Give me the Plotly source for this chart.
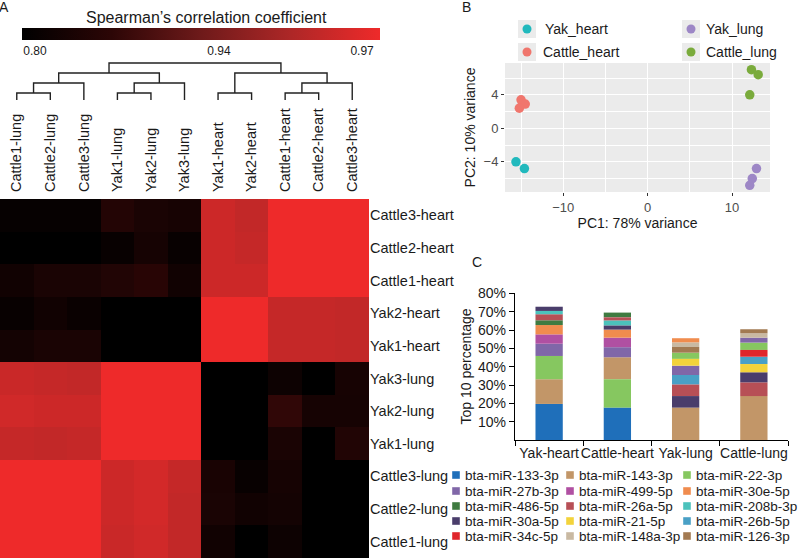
import numpy as np
import plotly.graph_objects as go

W, H = 799, 558
def px(x): return x / W
def py(y): return 1 - y / H

FONT = "Arial, Liberation Sans, sans-serif"
TXT = "#1a1a1a"

# ---------------- Panel A data ----------------
col_labels = ["Cattle1-lung", "Cattle2-lung", "Cattle3-lung", "Yak1-lung", "Yak2-lung", "Yak3-lung",
              "Yak1-heart", "Yak2-heart", "Cattle1-heart", "Cattle2-heart", "Cattle3-heart"]
row_labels = ["Cattle3-heart", "Cattle2-heart", "Cattle1-heart", "Yak2-heart", "Yak1-heart",
              "Yak3-lung", "Yak2-lung", "Yak1-lung", "Cattle3-lung", "Cattle2-lung", "Cattle1-lung"]
spearman = [
    [0.800, 0.800, 0.800, 0.845, 0.831, 0.826, 0.964, 0.961, 0.980, 0.980, 1.000],
    [0.790, 0.790, 0.790, 0.803, 0.824, 0.803, 0.964, 0.962, 0.980, 1.000, 0.980],
    [0.816, 0.831, 0.831, 0.842, 0.852, 0.816, 0.964, 0.964, 1.000, 0.980, 0.980],
    [0.803, 0.816, 0.805, 0.790, 0.790, 0.790, 0.980, 1.000, 0.962, 0.962, 0.961],
    [0.821, 0.831, 0.831, 0.790, 0.790, 0.790, 1.000, 0.980, 0.962, 0.962, 0.961],
    [0.963, 0.962, 0.961, 0.980, 0.980, 1.000, 0.790, 0.790, 0.811, 0.790, 0.826],
    [0.965, 0.964, 0.964, 0.980, 1.000, 0.980, 0.790, 0.790, 0.862, 0.824, 0.824],
    [0.962, 0.961, 0.962, 1.000, 0.980, 0.980, 0.790, 0.790, 0.831, 0.790, 0.842],
    [0.980, 0.980, 1.000, 0.964, 0.966, 0.962, 0.829, 0.803, 0.824, 0.790, 0.790],
    [0.980, 1.000, 0.980, 0.964, 0.966, 0.961, 0.831, 0.816, 0.821, 0.790, 0.790],
    [1.000, 0.980, 0.980, 0.963, 0.965, 0.961, 0.816, 0.790, 0.811, 0.790, 0.790],
]
color_breaks = [0.79, 0.80, 0.94, 0.97, 0.98]
color_positions = [0.0, 0.036, 0.55, 0.95, 1.0]
colorbar_ticks = [0.80, 0.94, 0.97]
colorbar_ticktext = ["0.80", "0.94", "0.97"]
# hierarchical clustering merges (left, right, height); leaves are column indices
dendro_merges = [
    (0, 1, 0.7), (11, 2, 1.7), (3, 4, 0.7), (13, 5, 1.7), (12, 14, 2.7),
    (6, 7, 0.7), (8, 9, 0.7), (17, 10, 1.7), (16, 18, 2.7), (15, 19, 3.7),
]

# ---------------- Panel B data ----------------
pca_groups = ["Yak_heart", "Cattle_heart", "Yak_lung", "Cattle_lung"]
pca_colors = ["#21b9bd", "#f0766d", "#9d87c6", "#7aab3c"]
pca_pc1 = [[-15.6, -14.6], [-15.0, -14.5, -15.2], [12.9, 12.4, 12.1], [12.3, 13.1, 12.1]]
pca_pc2 = [[-4.0, -4.8], [3.4, 2.9, 2.4], [-4.8, -6.0, -6.8], [7.0, 6.4, 4.0]]

# ---------------- Panel C data ----------------
bar_categories = ["Yak-heart", "Cattle-heart", "Yak-lung", "Cattle-lung"]
mirna_names = ["bta-miR-133-3p", "bta-miR-143-3p", "bta-miR-22-3p",
               "bta-miR-27b-3p", "bta-miR-499-5p", "bta-miR-30e-5p",
               "bta-miR-486-5p", "bta-miR-26a-5p", "bta-miR-208b-3p",
               "bta-miR-30a-5p", "bta-miR-21-5p", "bta-miR-26b-5p",
               "bta-miR-34c-5p", "bta-miR-148a-3p", "bta-miR-126-3p"]
mirna_colors = ["#1f6fba", "#c29668", "#86c760",
                "#8067a8", "#b050a2", "#f08c4e",
                "#3f7b41", "#b74f56", "#4cc2bc",
                "#4a3d6b", "#f3d33b", "#49a0c6",
                "#e0262b", "#c9b9a2", "#a27a52"]
yak_heart_mirs = ["bta-miR-133-3p", "bta-miR-143-3p", "bta-miR-22-3p", "bta-miR-27b-3p", "bta-miR-499-5p",
                  "bta-miR-30e-5p", "bta-miR-486-5p", "bta-miR-26a-5p", "bta-miR-208b-3p", "bta-miR-30a-5p"]
yak_heart_vals = [19.7, 13.5, 12.7, 6.7, 5.1, 5.1, 2.6, 3.3, 1.8, 2.3]
cattle_heart_mirs = ["bta-miR-133-3p", "bta-miR-22-3p", "bta-miR-143-3p", "bta-miR-27b-3p", "bta-miR-499-5p",
                     "bta-miR-30e-5p", "bta-miR-30a-5p", "bta-miR-208b-3p", "bta-miR-26a-5p", "bta-miR-486-5p"]
cattle_heart_vals = [17.7, 15.5, 12.0, 5.5, 5.2, 4.4, 2.2, 2.7, 1.8, 2.6]
yak_lung_mirs = ["bta-miR-143-3p", "bta-miR-30a-5p", "bta-miR-26a-5p", "bta-miR-26b-5p", "bta-miR-27b-3p",
                 "bta-miR-21-5p", "bta-miR-22-3p", "bta-miR-126-3p", "bta-miR-148a-3p", "bta-miR-30e-5p"]
yak_lung_vals = [17.7, 6.3, 6.4, 5.1, 5.1, 3.7, 3.4, 3.1, 2.4, 2.4]
cattle_lung_mirs = ["bta-miR-143-3p", "bta-miR-26a-5p", "bta-miR-30a-5p", "bta-miR-21-5p", "bta-miR-26b-5p",
                    "bta-miR-34c-5p", "bta-miR-22-3p", "bta-miR-27b-3p", "bta-miR-148a-3p", "bta-miR-126-3p"]
cattle_lung_vals = [24.0, 7.5, 5.5, 4.5, 4.0, 3.7, 4.0, 2.7, 2.4, 2.2]
bar_y_ticks = [10, 20, 30, 40, 50, 60, 70, 80]
bar_y_ticktext = ["10%", "20%", "30%", "40%", "50%", "60%", "70%", "80%"]

fig = go.Figure()

# ---------------- Heatmap ----------------
zpos = np.interp(np.array(spearman), color_breaks, color_positions)
fig.add_trace(go.Heatmap(
    z=zpos, x=list(range(len(col_labels))), y=list(range(len(row_labels))),
    zmin=0, zmax=1,
    colorscale=[[0, "#000000"], [0.25, "#2c0606"], [0.5, "#6e1a1a"], [0.75, "#ad2727"], [1, "#ee2a2a"]],
    xaxis="x", yaxis="y", hoverinfo="skip",
    colorbar=dict(orientation="h", x=px(201), xanchor="center", y=py(28), yanchor="top",
                  len=358 / W, lenmode="fraction", thickness=12, thicknessmode="pixels",
                  outlinewidth=0, xpad=0, ypad=0, ticks="",
                  tickvals=list(np.interp(colorbar_ticks, color_breaks, color_positions)),
                  ticktext=colorbar_ticktext, tickfont=dict(size=12, color=TXT, family=FONT)),
))

# ---------------- Dendrogram ----------------
n_leaves = len(col_labels)
node_x = {i: float(i) for i in range(n_leaves)}
node_h = {i: 0.0 for i in range(n_leaves)}
dx, dy = [], []
for k, (a, b, h) in enumerate(dendro_merges):
    nid = n_leaves + k
    dx += [node_x[a], node_x[a], node_x[b], node_x[b], None]
    dy += [node_h[a], h, h, node_h[b], None]
    node_x[nid] = (node_x[a] + node_x[b]) / 2
    node_h[nid] = h
fig.add_trace(go.Scatter(x=dx, y=dy, mode="lines", line=dict(color="#222222", width=1.4),
                         xaxis="x2", yaxis="y2", showlegend=False, hoverinfo="skip"))

# ---------------- PCA ----------------
for g, c, xs, ys in zip(pca_groups, pca_colors, pca_pc1, pca_pc2):
    fig.add_trace(go.Scatter(x=xs, y=ys, mode="markers", name=g,
                             marker=dict(size=9.5, color=c), xaxis="x3", yaxis="y3",
                             showlegend=False, hoverinfo="skip"))

# ---------------- Stacked bars ----------------
stacks = {
    "Yak-heart": (yak_heart_mirs, yak_heart_vals),
    "Cattle-heart": (cattle_heart_mirs, cattle_heart_vals),
    "Yak-lung": (yak_lung_mirs, yak_lung_vals),
    "Cattle-lung": (cattle_lung_mirs, cattle_lung_vals),
}
seg = {m: ([], [], []) for m in mirna_names}
for ci, cat in enumerate(bar_categories):
    mirs, vals = stacks[cat]
    base = 0.0
    for m, v in zip(mirs, vals):
        seg[m][0].append(ci)
        seg[m][1].append(v)
        seg[m][2].append(base)
        base += v
for m, c in zip(mirna_names, mirna_colors):
    xs, ys, bs = seg[m]
    fig.add_trace(go.Bar(x=xs, y=ys, base=bs, name=m, marker=dict(color=c, line=dict(width=0)),
                         width=0.4, xaxis="x4", yaxis="y4", showlegend=False, hoverinfo="skip"))

shapes = []
annotations = []

# PCA grey background
shapes.append(dict(type="rect", xref="x3 domain", yref="y3 domain", x0=0, x1=1, y0=0, y1=1,
                   fillcolor="#ebebeb", line=dict(width=0), layer="below"))

# PCA legend (manual)
leg_pos = {"Yak_heart": (527, 29, 543), "Yak_lung": (691, 29, 704),
           "Cattle_heart": (527, 52, 541), "Cattle_lung": (691, 52, 704)}
for g, c in zip(pca_groups, pca_colors):
    mx, my, tx = leg_pos[g]
    shapes.append(dict(type="rect", xref="paper", yref="paper", xsizemode="pixel", ysizemode="pixel",
                       xanchor=px(mx), yanchor=py(my), x0=-9, x1=9, y0=-9, y1=9,
                       fillcolor="#ebebeb", line=dict(width=0)))
    shapes.append(dict(type="circle", xref="paper", yref="paper", xsizemode="pixel", ysizemode="pixel",
                       xanchor=px(mx), yanchor=py(my), x0=-4.5, x1=4.5, y0=-4.5, y1=4.5,
                       fillcolor=c, line=dict(width=0)))
    annotations.append(dict(text=g, x=px(tx), y=py(my), xref="paper", yref="paper", xanchor="left",
                            yanchor="middle", showarrow=False, font=dict(size=14, color=TXT, family=FONT)))

# Bar legend (manual, 3 columns)
row_y = [475, 491, 506, 521, 536]
sw_x = [456, 570, 687]
tx_x = [464, 578, 695]
for i, (m, c) in enumerate(zip(mirna_names, mirna_colors)):
    r, k = divmod(i, 3)
    shapes.append(dict(type="rect", xref="paper", yref="paper", xsizemode="pixel", ysizemode="pixel",
                       xanchor=px(sw_x[k]), yanchor=py(row_y[r]), x0=-3.8, x1=3.8, y0=-3.8, y1=3.8,
                       fillcolor=c, line=dict(width=0)))
    annotations.append(dict(text=m, x=px(tx_x[k]), y=py(row_y[r]), xref="paper", yref="paper",
                            xanchor="left", yanchor="middle", showarrow=False, borderpad=0,
                            font=dict(size=13.5, color=TXT, family=FONT)))

# Titles / panel labels
annotations.append(dict(text="Spearman\u2019s correlation coefficient", x=px(206), y=py(17), xref="paper",
                        yref="paper", xanchor="center", yanchor="middle", showarrow=False,
                        font=dict(size=16, color=TXT, family=FONT)))
for lab, x, y in [("A", 4, 7), ("B", 466, 7), ("C", 477, 262)]:
    annotations.append(dict(text=lab, x=px(x), y=py(y), xref="paper", yref="paper", xanchor="center",
                            yanchor="middle", showarrow=False, font=dict(size=14, color=TXT, family=FONT)))

axis_font = dict(size=14.5, color=TXT, family=FONT)
fig.update_layout(
    width=W, height=H, margin=dict(l=0, r=0, t=0, b=0, pad=0, autoexpand=False),
    paper_bgcolor="white", plot_bgcolor="rgba(0,0,0,0)",
    font=dict(family=FONT, color=TXT), showlegend=False,
    barmode="overlay",
    shapes=shapes, annotations=annotations,
    # heatmap
    xaxis=dict(domain=[0, px(369)], range=[-0.5, 10.5], side="top", tickangle=-90, automargin=False,
               tickvals=list(range(len(col_labels))), ticktext=col_labels, tickfont=axis_font,
               ticklabelstandoff=6,
               showgrid=False, zeroline=False, ticks="", showline=False, anchor="y"),
    yaxis=dict(domain=[0, py(199)], range=[10.5, -0.5], side="right", automargin=False,
               tickvals=list(range(len(row_labels))), ticktext=row_labels, tickfont=axis_font,
               showgrid=False, zeroline=False, ticks="", showline=False, anchor="x"),
    # dendrogram
    xaxis2=dict(domain=[0, px(369)], range=[-0.5, 10.5], visible=False, anchor="y2", automargin=False),
    yaxis2=dict(domain=[py(100.5), py(62)], range=[-0.05, 3.8], visible=False, anchor="x2", automargin=False),
    # PCA
    xaxis3=dict(domain=[px(505), px(770)], range=[-16.9, 14.5], anchor="y3", automargin=False,
                tickvals=[-10, 0, 10], ticks="outside", ticklen=3, tickcolor="#333333",
                tickfont=dict(size=13, color="#4d4d4d", family=FONT),
                showgrid=True, gridcolor="white", gridwidth=1.1, zeroline=False, showline=False,
                minor=dict(tickvals=[-15, -5, 5], showgrid=True, gridcolor="white", gridwidth=0.5, ticks=""),
                title=dict(text="PC1: 78% variance", font=dict(size=14, color=TXT, family=FONT), standoff=4)),
    yaxis3=dict(domain=[py(192), py(63)], range=[-7.6, 7.8], anchor="x3", automargin=False,
                tickvals=[-4, 0, 4], ticks="outside", ticklen=3, tickcolor="#333333",
                tickfont=dict(size=13, color="#4d4d4d", family=FONT),
                showgrid=True, gridcolor="white", gridwidth=1.1, zeroline=False, showline=False,
                minor=dict(tickvals=[-6, -2, 2, 6], showgrid=True, gridcolor="white", gridwidth=0.5, ticks=""),
                title=dict(text="PC2: 10% variance", font=dict(size=14, color=TXT, family=FONT), standoff=4)),
    # bars
    xaxis4=dict(domain=[px(515), px(788)], range=[-0.5, 3.5], anchor="y4", automargin=False,
                tickvals=list(range(len(bar_categories))), ticktext=bar_categories, tickangle=0,
                tickfont=dict(size=14, color=TXT, family=FONT), ticks="",
                showline=True, linecolor="black", linewidth=1.3, showgrid=False, zeroline=False,
                minor=dict(tickvals=[-0.5, 0.5, 1.5, 2.5, 3.5], ticks="outside", ticklen=5,
                           tickcolor="black", tickwidth=1.2, showgrid=False)),
    yaxis4=dict(domain=[py(440), py(293)], range=[0, 80.3], anchor="x4", automargin=False,
                tickvals=bar_y_ticks, ticktext=bar_y_ticktext, ticks="outside", ticklen=5, tickcolor="black",
                tickfont=dict(size=14, color=TXT, family=FONT),
                showline=True, linecolor="black", linewidth=1.3, showgrid=False, zeroline=False,
                title=dict(text="Top 10 percentage", font=dict(size=14, color=TXT, family=FONT), standoff=3)),
)

fig.write_html("out.html", config={"displayModeBar": False},
               post_script="document.body.style.margin='0';document.body.style.padding='0';")
